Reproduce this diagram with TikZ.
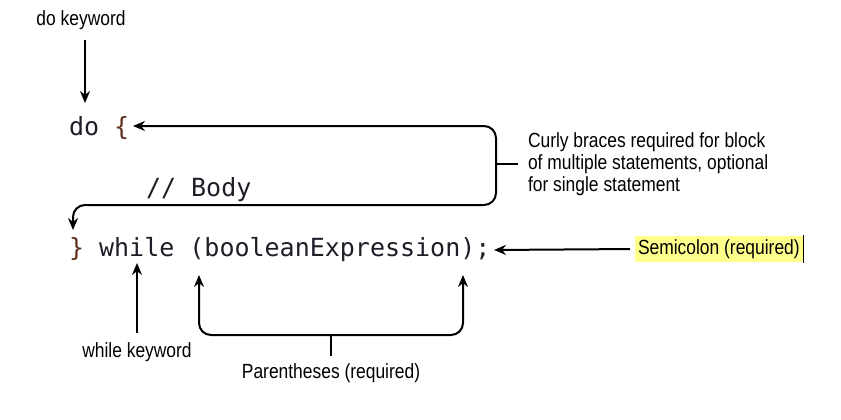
\documentclass[tikz,border=0pt]{standalone}
\usepackage{fontspec}
\setmainfont{Liberation Sans}[FakeStretch=0.85]
\setmonofont{DejaVu Sans Mono}
\usetikzlibrary{arrows.meta, positioning, calc}
\definecolor{codeink}{HTML}{1E1E28}
\definecolor{braceink}{HTML}{5E2E1A}
\definecolor{marker}{HTML}{FFFF8C}

\begin{document}
\begin{tikzpicture}[>={Stealth[length=12pt,width=10pt]}, x=1pt, y=-1pt, line width=2pt,
    code/.style={font=\ttfamily\fontsize{25}{25}\selectfont, text=codeink, inner sep=0pt, anchor=base west},
    note/.style={font=\fontsize{20.5}{22}\selectfont, inner sep=0pt}]
      \useasboundingbox (0,0) rectangle (841,420);

      % the code
      \node[code] (doline) at (68,135) {do \textcolor{braceink}{\{}};
      \node[code] (body) at (145,196) {// Body};
      \node[code] (whileline) at (68,256) {\textcolor{braceink}{\}} while (booleanExpression);};

      % where the arrows point
      \coordinate (dokw) at (85,103);
      \coordinate (bracein) at (133,126);
      \coordinate (closein) at (73,230);
      \coordinate (whilekw) at (137,263);
      \coordinate (openpar) at (199,275);
      \coordinate (closepar) at (463,275);
      \coordinate (semicolon) at (494,250);

      % do keyword
      \node[note] (donote) at (81,20) {do keyword};
      \draw[->, shorten <=9pt] (dokw |- donote.south) -- (dokw);

      % curly braces
      \node[note, anchor=west, align=left] (bracenote) at (527,164) {Curly braces required for block\\of multiple statements, optional\\for single statement};
      \draw[<->, rounded corners=12pt] (bracein) -- (496,126) -- (496,205) -- (73,205) -- (closein);
      \draw (496,164) -- ($(bracenote.west)+(-9,0)$);

      % semicolon
      \node[note, fill=marker, inner sep=3pt, anchor=west] (semi) at (634,249) {Semicolon (required)};
      \draw[line width=1pt] (semi.north east) -- (semi.south east);
      \draw[->, shorten <=4pt] (semi.west) -- (semicolon);

      % while keyword
      \node[note] (whilenote) at (137,352) {while keyword};
      \draw[->, shorten <=8pt] (whilenote.north) -- (whilekw);

      % parentheses
      \node[note] (parnote) at (331,373) {Parentheses (required)};
      \draw[<->, rounded corners=12pt] (openpar) -- (199,335) -- (463,335) -- (closepar);
      \draw (331,335) -- ($(parnote.north)+(0,-6)$);
\end{tikzpicture}
\end{document}
